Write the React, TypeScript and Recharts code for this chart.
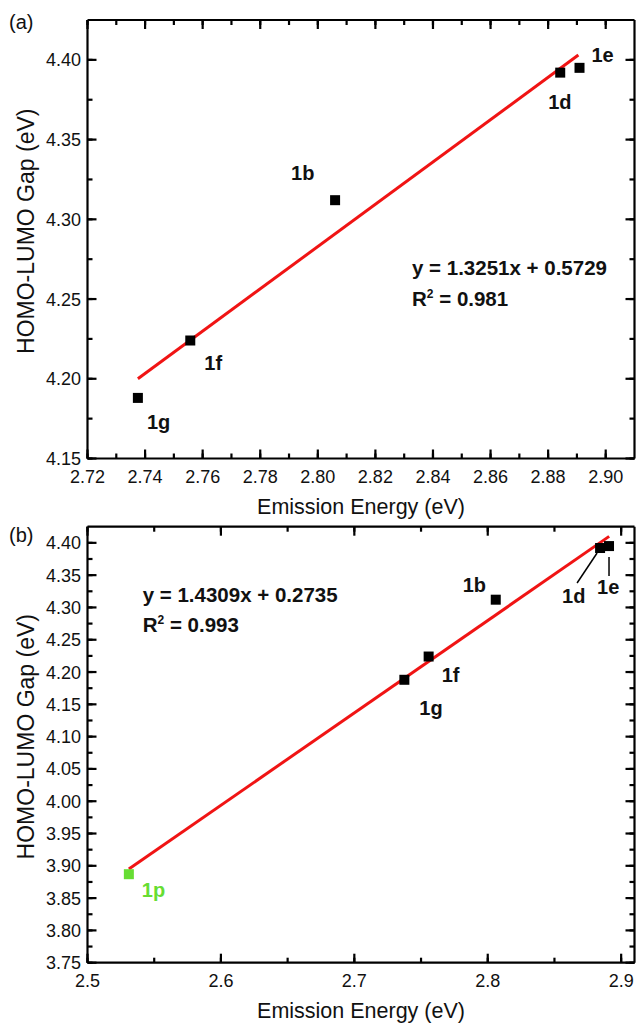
import React from 'react';
import { ScatterChart, Scatter, XAxis, YAxis, ReferenceLine } from 'recharts';

// ---------- data: panel (a) ----------
const compoundsA = ['1g', '1f', '1b', '1d', '1e'];
const emissionA = [2.7375, 2.7557, 2.806, 2.8842, 2.8909];
const gapA = [4.188, 4.224, 4.312, 4.392, 4.395];
const fitXA = [2.7375, 2.8905];
const fitYA = [4.2, 4.403];
const equationA = 'y = 1.3251x + 0.5729';
const r2A = '0.981';
const xMajorA = [2.72, 2.74, 2.76, 2.78, 2.8, 2.82, 2.84, 2.86, 2.88, 2.9];
const xMinorA = [2.73, 2.75, 2.77, 2.79, 2.81, 2.83, 2.85, 2.87, 2.89];
const yMajorA = [4.15, 4.2, 4.25, 4.3, 4.35, 4.4];
const yMinorA = [4.175, 4.225, 4.275, 4.325, 4.375];
const xDomainA = [2.72, 2.91];
const yDomainA = [4.15, 4.425];

// ---------- data: panel (b) ----------
const compoundsB = ['1p', '1g', '1f', '1b', '1d', '1e'];
const emissionB = [2.531, 2.7375, 2.7557, 2.806, 2.8842, 2.8909];
const gapB = [3.887, 4.188, 4.224, 4.312, 4.392, 4.395];
const fitXB = [2.531, 2.891];
const fitYB = [3.895, 4.41];
const equationB = 'y = 1.4309x + 0.2735';
const r2B = '0.993';
const xMajorB = [2.5, 2.6, 2.7, 2.8, 2.9];
const xMinorB = [2.55, 2.65, 2.75, 2.85];
const yMajorB = [3.75, 3.8, 3.85, 3.9, 3.95, 4.0, 4.05, 4.1, 4.15, 4.2, 4.25, 4.3, 4.35, 4.4];
const yMinorB = [3.775, 3.825, 3.875, 3.925, 3.975, 4.025, 4.075, 4.125, 4.175, 4.225, 4.275, 4.325, 4.375];
const xDomainB = [2.5, 2.91];
const yDomainB = [3.75, 4.425];

const xTitle = 'Emission Energy (eV)';
const yTitle = 'HOMO-LUMO Gap (eV)';

// ---------- styles ----------
const FONT = '"Liberation Sans", Arial, Helvetica, sans-serif';
const RED = '#f01414';
const POINT_COLOR: Record<string, string> = { '1p': '#66dd33' };
const LABEL_OFFSET_A: Record<string, [number, number]> = {
  '1g': [9, 31],
  '1f': [14, 29],
  '1b': [-44, -20],
  '1d': [-12, 36],
  '1e': [12, -6],
};
const LABEL_OFFSET_B: Record<string, [number, number]> = {
  '1p': [13, 23],
  '1g': [15, 35],
  '1f': [13, 25],
  '1b': [-33, -8],
  '1d': [-38, 55],
  '1e': [-12, 48],
};
const LEADER_B: Record<string, [number, number, number, number]> = {
  '1d': [-23, 35, -3, 5],
  '1e': [0, 11, 0, 30],
};
const MAJOR_LEN = 9;
const MINOR_LEN = 5;
const TICK_W = 2.2;

const near = (list: number[], v: number) => list.some((m) => Math.abs(m - v) < 1e-6);
const sorted = (a: number[], b: number[]) => [...a, ...b].sort((p, q) => p - q);

type Side = 'bottom' | 'top' | 'left' | 'right';

// Built-in tick lines (inward, MINOR_LEN long) are drawn by Recharts; this
// renderer lengthens the major ticks and writes the major labels.
function tickRenderer(side: Side, majors: number[], digits: number | null) {
  return (props: any) => {
    const x = Number(props.x);
    const y = Number(props.y);
    const v = Number(props.payload.value);
    const major = near(majors, v);
    if (!major) return <g />;
    let line = null;
    let label = null;
    if (side === 'bottom') {
      const ay = y + MINOR_LEN;
      line = <line x1={x} y1={ay} x2={x} y2={ay - MAJOR_LEN} stroke="#000" strokeWidth={TICK_W} />;
      if (digits != null)
        label = (
          <text x={x} y={ay + 24} textAnchor="middle" fontSize={18} fontFamily={FONT} fill="#111">
            {v.toFixed(digits)}
          </text>
        );
    } else if (side === 'top') {
      const ay = y - MINOR_LEN;
      line = <line x1={x} y1={ay} x2={x} y2={ay + MAJOR_LEN} stroke="#000" strokeWidth={TICK_W} />;
    } else if (side === 'left') {
      const ax = x - MINOR_LEN;
      line = <line x1={ax} y1={y} x2={ax + MAJOR_LEN} y2={y} stroke="#000" strokeWidth={TICK_W} />;
      if (digits != null)
        label = (
          <text x={ax - 6.5} y={y} dy="0.36em" textAnchor="end" fontSize={18} fontFamily={FONT} fill="#111">
            {v.toFixed(digits)}
          </text>
        );
    } else {
      const ax = x + MINOR_LEN;
      line = <line x1={ax} y1={y} x2={ax - MAJOR_LEN} y2={y} stroke="#000" strokeWidth={TICK_W} />;
    }
    return (
      <g>
        {line}
        {label}
      </g>
    );
  };
}

function pointShape(offsets: Record<string, [number, number]>, leaders: Record<string, [number, number, number, number]>) {
  return (props: any) => {
    const { cx, cy, payload } = props;
    if (cx == null || cy == null) return <g />;
    const name = payload.name as string;
    const color = POINT_COLOR[name] ?? '#000';
    const off = offsets[name] ?? [10, 0];
    const ld = leaders[name];
    return (
      <g>
        <rect x={cx - 5} y={cy - 5} width={10} height={10} fill={color} />
        {ld && (
          <line x1={cx + ld[0]} y1={cy + ld[1]} x2={cx + ld[2]} y2={cy + ld[3]} stroke="#000" strokeWidth={1.5} />
        )}
        <text x={cx + off[0]} y={cy + off[1]} fontSize={20} fontWeight="bold" fontFamily={FONT} fill={color === '#000' ? '#111' : color}>
          {name}
        </text>
      </g>
    );
  };
}

const hiddenShape = () => <g />;

const xTitleContent = (props: any) => {
  const vb = props.viewBox || {};
  return (
    <text x={vb.x + vb.width / 2} y={vb.y + 55.5} textAnchor="middle" fontSize={21.5} fontFamily={FONT} fill="#111">
      {xTitle}
    </text>
  );
};

const yTitleContent = (props: any) => {
  const vb = props.viewBox || {};
  const cx = vb.x + 6.5;
  const cy = vb.y + vb.height / 2 - 8;
  return (
    <text x={cx} y={cy} textAnchor="middle" fontSize={23} fontFamily={FONT} fill="#111" transform={`rotate(-90, ${cx}, ${cy})`}>
      {yTitle}
    </text>
  );
};

interface PanelProps {
  names: string[];
  xs: number[];
  ys: number[];
  fitX: number[];
  fitY: number[];
  xDomain: number[];
  yDomain: number[];
  xMajor: number[];
  xMinor: number[];
  yMajor: number[];
  yMinor: number[];
  xDigits: number;
  height: number;
  marginTop: number;
  marginBottom: number;
  offsets: Record<string, [number, number]>;
  leaders: Record<string, [number, number, number, number]>;
}

function Panel(p: PanelProps) {
  const data = p.names.map((name, i) => ({ name, x: p.xs[i], y: p.ys[i] }));
  const xTicks = sorted(p.xMajor, p.xMinor);
  const yTicks = sorted(p.yMajor, p.yMinor);
  const axisLine = { stroke: '#000', strokeWidth: 2.2 };
  const tickLine = { stroke: '#000', strokeWidth: TICK_W };
  const common = {
    type: 'number' as const,
    allowDataOverflow: true,
    interval: 0 as const,
    tickSize: -MINOR_LEN,
    tickMargin: 0,
    tickLine,
    axisLine,
  };
  return (
    <ScatterChart
      width={636}
      height={p.height}
      margin={{ top: p.marginTop, right: 0.5, bottom: p.marginBottom, left: 27.5 }}
    >
      <XAxis
        {...common}
        xAxisId="main"
        dataKey="x"
        domain={p.xDomain}
        ticks={xTicks}
        height={40}
        tick={tickRenderer('bottom', p.xMajor, p.xDigits)}
        label={{ content: xTitleContent }}
      />
      <XAxis
        {...common}
        xAxisId="top"
        orientation="top"
        dataKey="x"
        domain={p.xDomain}
        ticks={xTicks}
        height={1}
        tick={tickRenderer('top', p.xMajor, null)}
      />
      <YAxis
        {...common}
        yAxisId="main"
        dataKey="y"
        domain={p.yDomain}
        ticks={yTicks}
        width={60}
        tick={tickRenderer('left', p.yMajor, 2)}
        label={{ content: yTitleContent }}
      />
      <YAxis
        {...common}
        yAxisId="right"
        orientation="right"
        dataKey="y"
        domain={p.yDomain}
        ticks={yTicks}
        width={1}
        tick={tickRenderer('right', p.yMajor, null)}
      />
      <ReferenceLine
        xAxisId="main"
        yAxisId="main"
        segment={[
          { x: p.fitX[0], y: p.fitY[0] },
          { x: p.fitX[1], y: p.fitY[1] },
        ]}
        stroke={RED}
        strokeWidth={3}
        ifOverflow="visible"
      />
      <Scatter
        xAxisId="top"
        yAxisId="right"
        data={data}
        isAnimationActive={false}
        shape={hiddenShape}
        legendType="none"
      />
      <Scatter
        xAxisId="main"
        yAxisId="main"
        data={data}
        isAnimationActive={false}
        shape={pointShape(p.offsets, p.leaders)}
      />
    </ScatterChart>
  );
}

function Equation({ x, y, eq, r2 }: { x: number; y: number; eq: string; r2: string }) {
  return (
    <g fontFamily={FONT} fontWeight="bold" fontSize={20.5} fill="#111">
      <text x={x} y={y}>{eq}</text>
      <text x={x} y={y + 30.5}>
        <tspan>R</tspan>
        <tspan fontSize={12} dy={-8}>2</tspan>
        <tspan dy={8}> = {r2}</tspan>
      </text>
    </g>
  );
}

export default function App() {
  return (
    <div
      style={{
        position: 'absolute',
        left: 0,
        top: 0,
        width: 636,
        height: 1025,
        background: '#fff',
        fontFamily: FONT,
        overflow: 'hidden',
      }}
    >
      <div style={{ position: 'absolute', left: 0, top: 0 }}>
        <Panel
          names={compoundsA}
          xs={emissionA}
          ys={gapA}
          fitX={fitXA}
          fitY={fitYA}
          xDomain={xDomainA}
          yDomain={yDomainA}
          xMajor={xMajorA}
          xMinor={xMinorA}
          yMajor={yMajorA}
          yMinor={yMinorA}
          xDigits={2}
          height={520}
          marginTop={19}
          marginBottom={21.5}
          offsets={LABEL_OFFSET_A}
          leaders={{}}
        />
      </div>
      <div style={{ position: 'absolute', left: 0, top: 500 }}>
        <Panel
          names={compoundsB}
          xs={emissionB}
          ys={gapB}
          fitX={fitXB}
          fitY={fitYB}
          xDomain={xDomainB}
          yDomain={yDomainB}
          xMajor={xMajorB}
          xMinor={xMinorB}
          yMajor={yMajorB}
          yMinor={yMinorB}
          xDigits={1}
          height={525}
          marginTop={25.7}
          marginBottom={22.3}
          offsets={LABEL_OFFSET_B}
          leaders={LEADER_B}
        />
      </div>
      <svg
        width={636}
        height={1025}
        style={{ position: 'absolute', left: 0, top: 0, pointerEvents: 'none' }}
      >
        <text x={9} y={29} fontSize={20} fontFamily={FONT} fill="#111">(a)</text>
        <text x={9} y={542} fontSize={20} fontFamily={FONT} fill="#111">(b)</text>
        <Equation x={412} y={275} eq={equationA} r2={r2A} />
        <Equation x={142.7} y={601.7} eq={equationB} r2={r2B} />
      </svg>
    </div>
  );
}
